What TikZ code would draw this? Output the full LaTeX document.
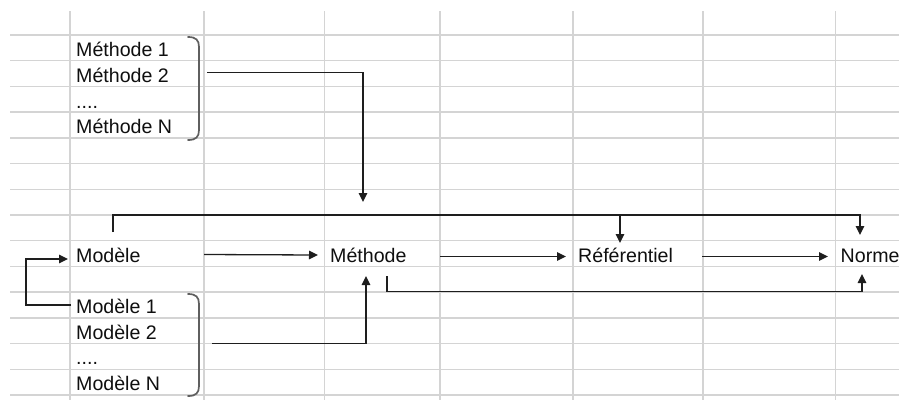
\documentclass[tikz,border=0pt]{standalone}
\usepackage{fontspec}
\setmainfont{Liberation Sans}
\usetikzlibrary{arrows.meta}
\definecolor{gridc}{RGB}{212,212,212}
\definecolor{brkc}{RGB}{95,95,95}
\definecolor{conc}{RGB}{30,30,30}
\definecolor{txtc}{RGB}{15,15,15}
\begin{document}
\begin{tikzpicture}[x=1pt,y=-1pt,
  gridline/.style={draw=gridc,line width=1.4pt},
  lbl/.style={anchor=base west,inner sep=0pt,text=txtc,font=\fontsize{19.6}{23}\selectfont},
  brk/.style={draw=brkc,line width=1.7pt,line cap=round},
  con/.style={draw=conc,line width=1.3pt},
  arr/.style={con,-{Triangle[length=9pt,width=8.5pt]}}]
\useasboundingbox (0,0) rectangle (899,400);
\fill[white] (0,0) rectangle (899,400);
% spreadsheet grid
\foreach \k in {0,...,14} \draw[gridline] (10,{35+25.714*\k}) -- (899,{35+25.714*\k});
\foreach \x in {70,204,324.5,440,573,703,835.5} \draw[gridline] (\x,11) -- (\x,400);
% texts
\node[lbl] (meth1) at (76,56.5) {Méthode 1};
\node[lbl] (meth2) at (76,82.3) {Méthode 2};
\node[lbl] (methd) at (76,108) {....};
\node[lbl] (methN) at (76,133.7) {Méthode N};
\node[lbl] (mod) at (76,262.3) {Modèle};
\node[lbl] (meth) at (330,262.3) {Méthode};
\node[lbl] (ref) at (578,262.3) {Référentiel};
\node[lbl] (norme) at (840.5,262.3) {Norme};
\node[lbl] (mod1) at (76,313.5) {Modèle 1};
\node[lbl] (mod2) at (76,339) {Modèle 2};
\node[lbl] (modd) at (76,364.7) {....};
\node[lbl] (modN) at (76,390.5) {Modèle N};
% brackets
\draw[brk] (188,37) .. controls (196,37) and (199,40) .. (199,47) -- (199,130) .. controls (199,137) and (196,140) .. (188,140);
\draw[brk] (188,294) .. controls (196,294) and (199,297) .. (199,304) -- (199,386) .. controls (199,393) and (196,396) .. (188,396);
% connector points
\coordinate (mbOut) at (207,72.3);
\coordinate (mbTip) at (363,202);
\coordinate (topStart) at (113,232);
\coordinate (topLeft) at (113,215);
\coordinate (topBranch) at (620,215);
\coordinate (refTop) at (620,243);
\coordinate (normeTop) at (860,235);
\coordinate (modOut) at (204,254.5);
\coordinate (methIn) at (318,255);
\coordinate (methOut) at (440,256.5);
\coordinate (refIn) at (566,256.5);
\coordinate (refOut) at (702,256.5);
\coordinate (normeIn) at (828,256.5);
\coordinate (methBot) at (387,276);
\coordinate (methBotLow) at (387,291.7);
\coordinate (normeBot) at (862,274);
\coordinate (mod1Out) at (71,305);
\coordinate (loopLow) at (26,305);
\coordinate (modIn) at (68,259);
\coordinate (mbbOut) at (212,343.3);
\coordinate (methBotIn) at (366,276);
% connectors
\draw[arr] (mbOut) -| (mbTip);
\draw[arr] (topStart) -- (topLeft) -| (normeTop);
\draw[arr] (topBranch) -- (refTop);
\draw[arr] (modOut) -- (methIn);
\draw[arr] (methOut) -- (refIn);
\draw[arr] (refOut) -- (normeIn);
\draw[arr] (methBot) -- (methBotLow) -| (normeBot);
\draw[arr] (mod1Out) -- (loopLow) |- (modIn);
\draw[arr] (mbbOut) -| (methBotIn);
\end{tikzpicture}
\end{document}
